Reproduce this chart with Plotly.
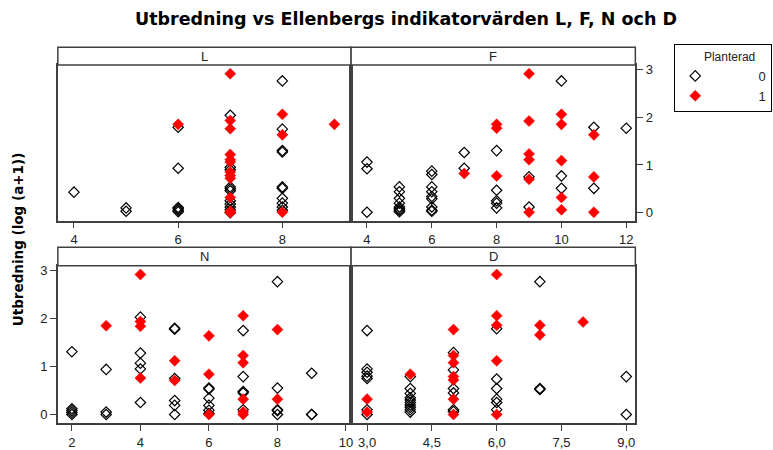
import plotly.graph_objects as go

# Ellenberg indicator values (x) and spread, log(a+1) (y), split by planted status
L_open_x = [4, 5, 5, 6, 6, 6, 6, 6, 6,
            7, 7, 7, 7, 7, 7, 7, 7, 7, 7, 7,
            8, 8, 8, 8, 8, 8, 8, 8, 8, 8]
L_open_y = [0.43, 0.10, 0.03, 1.79, 0.93, 0.11, 0.08, 0.05, 0.02,
            2.04, 0.95, 0.90, 0.54, 0.50, 0.46, 0.25, 0.18, 0.12, 0.06, 0.00,
            2.76, 1.75, 1.30, 1.27, 0.54, 0.51, 0.30, 0.20, 0.12, 0.05]
L_plant_x = [6, 7, 7, 7, 7, 7, 7, 7, 7, 7, 7, 7, 7, 8, 8, 8, 9]
L_plant_y = [1.85, 2.91, 1.93, 1.76, 1.22, 1.11, 1.06, 0.85, 0.78, 0.72, 0.32, 0.03, 0.00,
             2.06, 1.63, 0.01, 1.85]

F_open_x = [4, 4, 4, 5, 5, 5, 5, 5, 5, 5, 5,
            6, 6, 6, 6, 6, 6, 6, 6, 6, 7, 7,
            8, 8, 8, 8, 8, 9, 9, 10, 10, 10, 11, 11, 12]
F_open_y = [1.06, 0.92, 0.01, 0.54, 0.44, 0.30, 0.20, 0.12, 0.08, 0.05, 0.02,
            0.87, 0.80, 0.54, 0.44, 0.34, 0.29, 0.12, 0.05, 0.03, 1.26, 0.93,
            1.30, 0.47, 0.25, 0.20, 0.10, 0.75, 0.12, 2.76, 0.77, 0.51, 1.79, 0.51, 1.77]
F_plant_x = [7, 8, 8, 8, 9, 9, 9, 9, 9, 9, 10, 10, 10, 10, 10, 11, 11, 11]
F_plant_y = [0.82, 1.85, 1.77, 0.77, 2.91, 1.92, 1.23, 1.11, 0.70, 0.01,
             2.06, 1.85, 1.09, 0.32, 0.06, 1.63, 0.75, 0.01]

N_open_x = [2, 2, 2, 2, 2, 3, 3, 3, 4, 4, 4, 4, 4,
            5, 5, 5, 5, 5, 5, 6, 6, 6, 6, 6, 6,
            7, 7, 7, 7, 7, 8, 8, 8, 8, 8, 9, 9, 9]
N_open_y = [1.31, 0.12, 0.08, 0.04, 0.00, 0.94, 0.05, 0.00, 2.03, 1.28, 1.07, 0.95, 0.25,
            1.80, 1.78, 0.75, 0.29, 0.19, 0.00, 0.55, 0.53, 0.34, 0.19, 0.09, 0.02,
            1.75, 0.79, 0.48, 0.45, 0.10, 2.77, 0.55, 0.10, 0.08, 0.00, 0.86, 0.00, 0.00]
N_plant_x = [3, 4, 4, 4, 4, 5, 5, 6, 6, 6, 7, 7, 7, 7, 7, 7, 8, 8]
N_plant_y = [1.85, 2.92, 1.94, 1.84, 0.76, 1.12, 0.71, 1.64, 0.84, 0.00,
             2.06, 1.23, 1.08, 0.32, 0.05, 0.00, 1.77, 0.32]

D_open_x = [3, 3, 3, 3, 3, 3, 3, 4, 4, 4, 4, 4, 4, 4, 4, 4, 4,
            5, 5, 5, 5, 5, 5, 6, 6, 6, 6, 6, 6, 7, 7, 7, 9, 9]
D_open_y = [1.75, 0.95, 0.88, 0.80, 0.75, 0.10, 0.00,
            0.79, 0.54, 0.44, 0.35, 0.30, 0.25, 0.20, 0.15, 0.10, 0.05,
            1.29, 0.93, 0.54, 0.45, 0.10, 0.06, 1.79, 0.74, 0.54, 0.32, 0.25, 0.10,
            2.77, 0.54, 0.52, 0.79, 0.00]
D_plant_x = [3, 3, 4, 5, 5, 5, 5, 5, 5, 5, 6, 6, 6, 6, 6, 7, 7, 8]
D_plant_y = [0.32, 0.05, 0.84, 1.77, 1.23, 1.08, 0.79, 0.72, 0.32, 0.00,
             2.92, 2.06, 1.86, 1.12, 0.00, 1.86, 1.66, 1.93]

L_ticks = [4, 6, 8]
F_ticks = [4, 6, 8, 10, 12]
N_ticks = [2, 4, 6, 8, 10]
D_ticks = [3.0, 4.5, 6.0, 7.5, 9.0]
y_ticks = [0, 1, 2, 3]

W, H = 773, 450


def fx(px):
    return px / W


def fy(py):
    return 1 - py / H


panels = [
    dict(name="L", ox=L_open_x, oy=L_open_y, px=L_plant_x, py=L_plant_y, ticks=L_ticks,
         xr=[3.69, 9.32], x0=58, x1=352, top=63, bot=221, strip=45, yr=[-0.165, 3.093]),
    dict(name="F", ox=F_open_x, oy=F_open_y, px=F_plant_x, py=F_plant_y, ticks=F_ticks,
         xr=[3.51, 12.28], x0=352, x1=637, top=63, bot=221, strip=45, yr=[-0.165, 3.093]),
    dict(name="N", ox=N_open_x, oy=N_open_y, px=N_plant_x, py=N_plant_y, ticks=N_ticks,
         xr=[1.59, 10.15], x0=58, x1=352, top=267, bot=427, strip=248, yr=[-0.185, 3.10]),
    dict(name="D", ox=D_open_x, oy=D_open_y, px=D_plant_x, py=D_plant_y, ticks=D_ticks,
         xr=[2.63, 9.21], x0=352, x1=637, top=267, bot=427, strip=248, yr=[-0.185, 3.10]),
]

fig = go.Figure()
frame = "#404040"
sans = "Liberation Sans, Arial, sans-serif"
bold_sans = "DejaVu Sans, Verdana, sans-serif"
tick_font = dict(family=sans, size=13, color="#222222")
shapes = []
annotations = []

for i, p in enumerate(panels):
    n = "" if i == 0 else str(i + 1)
    xa, ya = "x" + n, "y" + n
    fig.add_trace(go.Scatter(
        x=p["ox"], y=p["oy"], mode="markers", xaxis=xa, yaxis=ya,
        name="\u00a0" * 12 + "0", legendgroup="0", showlegend=(i == 0),
        marker=dict(symbol="diamond-open", size=8, color="black", line=dict(width=1.2, color="black")),
    ))
    fig.add_trace(go.Scatter(
        x=p["px"], y=p["py"], mode="markers", xaxis=xa, yaxis=ya,
        name="\u00a0" * 12 + "1", legendgroup="1", showlegend=(i == 0),
        marker=dict(symbol="diamond", size=8.5, color="#ff0000", line=dict(width=0.5, color="#ff0000")),
    ))

    xkey = "xaxis" + n
    ykey = "yaxis" + n
    is_d = p["name"] == "D"
    fig.update_layout(**{
        xkey: dict(
            domain=[fx(p["x0"]), fx(p["x1"])], range=p["xr"], anchor=ya,
            tickvals=p["ticks"], tickformat=".1f" if is_d else "d",
            ticks="outside", ticklen=6, tickcolor=frame, showgrid=False, zeroline=False,
            showline=True, linecolor=frame, linewidth=1.5, mirror=True,
            tickfont=tick_font,
        ),
    })
    if p["name"] == "F":
        yside, yticks = "right", "outside"
    elif p["name"] == "N":
        yside, yticks = "left", "outside"
    else:
        yside, yticks = "left", ""
    fig.update_layout(**{
        ykey: dict(
            domain=[fy(p["bot"]), fy(p["top"])], range=p["yr"], anchor=xa, side=yside,
            tickvals=y_ticks, ticks=yticks, ticklen=6, tickcolor=frame,
            showticklabels=(yticks != ""), showgrid=False, zeroline=False,
            showline=True, linecolor=frame, linewidth=1.5, mirror=True,
            tickfont=tick_font,
        ),
    })

    # strip header with the indicator name
    shapes.append(dict(type="rect", xref="paper", yref="paper",
                       x0=fx(p["x0"]), x1=fx(p["x1"]), y0=fy(p["top"]), y1=fy(p["strip"]),
                       line=dict(color=frame, width=1.5), fillcolor="white"))
    annotations.append(dict(text=p["name"], xref="paper", yref="paper",
                            x=(fx(p["x0"]) + fx(p["x1"])) / 2, y=(fy(p["top"]) + fy(p["strip"])) / 2,
                            showarrow=False, xanchor="center", yanchor="middle",
                            font=dict(family=sans, size=13, color="#222222")))

annotations.append(dict(
    text="<b>Utbredning (log (a+1))</b>", xref="paper", yref="paper",
    x=fx(18), y=fy(240), textangle=-90, showarrow=False,
    xanchor="center", yanchor="middle",
    font=dict(family=bold_sans, size=13.5, color="black"),
))

fig.update_layout(
    width=W, height=H,
    margin=dict(l=0, r=0, t=0, b=0),
    paper_bgcolor="white", plot_bgcolor="white",
    separators=", ",
    title=dict(text="<b>Utbredning vs Ellenbergs indikatorvärden L, F, N och D</b>",
               x=fx(406), xanchor="center", y=fy(19), yanchor="middle",
               font=dict(family=bold_sans, size=17.5, color="black")),
    shapes=shapes,
    annotations=annotations,
    legend=dict(
        title=dict(text="\u00a0" * 8 + "Planterad", font=dict(size=12)),
        x=fx(676), y=fy(42), xanchor="left", yanchor="top",
        bordercolor="black", borderwidth=1, bgcolor="white",
        font=dict(family=sans, size=13, color="#222222"),
        itemwidth=30, tracegroupgap=0,
    ),
)

fig.write_html("out.html")
